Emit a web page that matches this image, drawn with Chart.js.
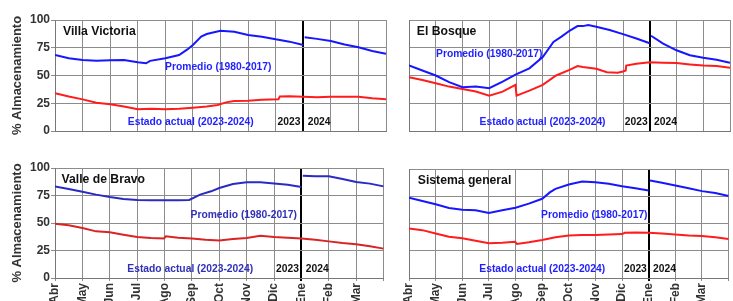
<!DOCTYPE html>
<html><head><meta charset="utf-8">
<script src="https://cdn.jsdelivr.net/npm/chart.js@4/dist/chart.umd.min.js"></script>
<style>
html,body{margin:0;padding:0;background:#fff;}
body{position:relative;width:733px;height:301px;overflow:hidden;}
canvas{position:absolute;}
</style></head><body>
<canvas id="c0" width="400" height="140" style="left:0;top:0;width:400px;height:140px"></canvas>
<canvas id="c1" width="355" height="140" style="left:390px;top:0;width:355px;height:140px"></canvas>
<canvas id="c2" width="400" height="161" style="left:0;top:140px;width:400px;height:161px"></canvas>
<canvas id="c3" width="355" height="161" style="left:390px;top:140px;width:355px;height:161px"></canvas>
<script>
// ---- data ----
const months = ['Abr','May','Jun','Jul','Ago','Sep','Oct','Nov','Dic','Ene','Feb','Mar'];
const yTicks = [0, 25, 50, 75, 100];
const panelNames = ['Villa Victoria', 'El Bosque', 'Valle de Bravo', 'Sistema general'];
const labelPromedio = 'Promedio (1980-2017)';
const labelEstado = 'Estado actual (2023-2024)';
const yearLabels = ['2023', '2024'];

// [month index from 1 Abr, % storage]; null = break in line
const villaVictoriaPromedio = [[0,68.5],[0.5,65.5],[1,64],[1.5,63.4],[2,63.7],[2.5,64],[3,61.9],[3.3,61],[3.45,63.2],[4,65.5],[4.5,68.5],[4.8,73.5],[5,77.5],[5.3,85],[5.5,87.4],[6,90.4],[6.5,89.5],[7,86.5],[7.5,85],[8,82.6],[8.5,80.5],[9,77.5],[9.02,null],[9.05,84.4],[9.5,83],[10,81],[10.5,78],[11,75.4],[11.5,72],[12,69.5]];
const villaVictoriaEstado = [[0,34],[0.5,31],[1,28.5],[1.5,25.5],[2,24],[2.5,22],[3,19.5],[3.5,20],[4,19.5],[4.5,20],[5,21],[5.5,22],[5.9,23.4],[6.2,25.8],[6.5,27],[7,27.3],[7.5,28.2],[8.1,28.5],[8.15,31],[8.5,31.3],[9,30.8],[9.5,30.5],[10,30.8],[10.5,30.8],[11,30.8],[11.5,29.5],[12,28.5]];
const elBosquePromedio = [[0,59],[0.5,54.5],[1,50],[1.5,44],[2,39.4],[2.5,40],[3,38.5],[3.5,44.5],[4,51],[4.5,56.5],[5,66.7],[5.4,80.3],[5.7,85],[6,90.3],[6.3,94.5],[6.5,94.5],[6.7,95.5],[7,94],[7.5,91],[8,87.3],[8.5,83.3],[9,79],[9.02,null],[9.05,85.8],[9.5,78.8],[10,72.7],[10.5,68.2],[11,66],[11.5,64.2],[12,61.5]];
const elBosqueEstado = [[0,48.5],[0.5,46],[1,43],[1.5,40],[2,37.9],[2.5,35.5],[3,31.8],[3.5,35.5],[3.98,41.5],[4.02,31.8],[4.5,36.4],[5,41.5],[5.5,50],[6,55],[6.3,58.5],[6.5,57.6],[7,56],[7.4,53],[7.8,52.5],[8,53.6],[8.1,54.5],[8.12,59],[8.5,60.6],[9,62],[9.5,61.5],[10,61.2],[10.5,60],[11,59],[11.5,58.5],[12,57]];
const valleBravoPromedio = [[0,83.3],[0.5,81],[1,78.5],[1.5,75.8],[2,73.6],[2.5,71.8],[3,70.9],[3.5,70.6],[4,70.6],[4.5,70.6],[4.9,71],[5.3,75.8],[5.7,78.8],[6,81.8],[6.5,85.5],[7,87],[7.5,87],[8,85.8],[8.5,84.8],[9,82.7],[9.02,null],[9.05,93],[9.5,92.4],[10,92.4],[10.5,90],[11,87.3],[11.5,85.8],[12,83.3]];
const valleBravoEstado = [[0,49.4],[0.5,47.9],[1,45.5],[1.5,42.4],[2,41.5],[2.5,39.4],[3,37.3],[3.5,36.4],[3.98,36],[4.05,37.9],[4.5,36.7],[5,35.8],[5.5,34.8],[6,34.2],[6.5,35.5],[7,36.4],[7.5,38.5],[8,37.3],[8.5,36.7],[9,36],[9.5,34.8],[10,33.3],[10.5,31.8],[11,30.6],[11.5,28.8],[12,26.7]];
const sistemaPromedio = [[0,73.6],[0.5,70.6],[1,67.6],[1.5,64.2],[2,62.7],[2.5,62.1],[3,59.7],[3.5,62.1],[4,64.5],[4.5,68.2],[5,72.7],[5.3,78.8],[5.5,81.8],[6,85.8],[6.5,88.5],[7,87.9],[7.5,86.4],[8,84.2],[8.5,82.4],[9,80.3],[9.02,null],[9.05,89.4],[9.5,87.3],[10,84.8],[10.5,82.4],[11,79.7],[11.5,77.9],[12,75.2]];
const sistemaEstado = [[0,45.5],[0.5,43.9],[1,40.9],[1.5,37.9],[2,36.4],[2.5,34.2],[3,31.8],[3.5,32.4],[3.98,33.3],[4.05,31.2],[4.5,32.7],[5,34.8],[5.5,37.3],[6,39],[6.5,39.4],[7,39.4],[7.5,40],[8,40.3],[8.1,41.5],[8.5,41.8],[9,41.5],[9.5,40.9],[10,40],[10.5,39],[11,38.5],[11.5,37.3],[12,35.8]];

// ---- drawing ----
const FONT = '"Liberation Sans", Arial, sans-serif';
const toPts = arr => arr.map(p => ({x: p[0], y: p[1]}));

const textPlugin = {
  id: 'panelText',
  beforeDatasetsDraw(chart, args, opts) {
    const {ctx, scales: {x, y}} = chart;
    ctx.save();
    ctx.textBaseline = 'middle';
    ctx.textAlign = 'left';
    for (const t of opts.items) {
      ctx.font = t.font;
      ctx.fillStyle = t.color;
      ctx.fillText(t.text, x.getPixelForValue(t.x), y.getPixelForValue(t.y));
    }
    ctx.restore();
  }
};

function makePanel(id, name, promedio, estado, cfg) {
  const blue = cfg.blue, red = cfg.red;
  const items = [
    {text: name, x: cfg.nameX, y: 89.3, font: 'bold 12.2px ' + FONT, color: '#111'},
    {text: labelPromedio, x: cfg.promX, y: cfg.promY, font: 'bold 10.3px ' + FONT, color: cfg.textBlue},
    {text: labelEstado, x: 2.64, y: 8.4, font: 'bold 10.3px ' + FONT, color: cfg.textBlue},
    {text: yearLabels[0], x: 8.07, y: 8.4, font: 'bold 10.3px ' + FONT, color: '#111'},
    {text: yearLabels[1], x: 9.16, y: 8.4, font: 'bold 10.3px ' + FONT, color: '#111'}
  ];
  new Chart(document.getElementById(id), {
    type: 'line',
    data: {
      datasets: [
        {label: labelPromedio, data: toPts(promedio), borderColor: blue, borderWidth: 2, pointRadius: 0, spanGaps: false, tension: 0},
        {label: labelEstado, data: toPts(estado), borderColor: red, borderWidth: 2, pointRadius: 0, spanGaps: true, tension: 0}
      ]
    },
    options: {
      responsive: false,
      animation: false,
      events: [],
      layout: {padding: cfg.pad},
      plugins: {legend: {display: false}, tooltip: {enabled: false}, panelText: {items}},
      scales: {
        x: {
          type: 'linear', min: 0, max: 12,
          afterBuildTicks: s => { s.ticks = months.map((m, i) => ({value: i})).concat([{value: 12}]); },
          afterFit: s => { s.height = cfg.xHeight; },
          ticks: {
            display: cfg.showX, autoSkip: false, minRotation: 90, maxRotation: 90, padding: 2,
            color: '#333', font: {family: FONT, size: 12, weight: 'bold'},
            callback: v => months[v] !== undefined ? months[v] : ''
          },
          grid: {
            drawTicks: cfg.showX, tickLength: 3,
            color: c => (c.tick && c.tick.value === 9) ? '#000' : '#8c8c8c',
            lineWidth: c => (c.tick && c.tick.value === 9) ? 2 : 1
          },
          border: {color: '#777', width: 1}
        },
        y: {
          min: 0, max: 100,
          afterBuildTicks: s => { s.ticks = yTicks.map(v => ({value: v})); },
          afterFit: s => { s.width = cfg.yWidth; },
          ticks: {display: cfg.showY, padding: 1, color: '#333', font: {family: FONT, size: 12, weight: 'bold'}},
          grid: {drawTicks: cfg.showY, tickLength: 4, color: '#8c8c8c', lineWidth: 1},
          border: {color: '#777', width: 1},
          title: {display: cfg.showY, text: '% Almacenamiento', color: '#333', padding: {top: 10, bottom: 0},
                  font: {family: FONT, size: 13, weight: 'bold'}}
        }
      }
    },
    plugins: [textPlugin]
  });
}

makePanel('c0', panelNames[0], villaVictoriaPromedio, villaVictoriaEstado, {
  blue: '#1717ff', red: '#ff1c1c', textBlue: '#1f1fff',
  nameX: 0.29, promX: 3.99, promY: 57.9,
  pad: {left: 0, top: 20, right: 14, bottom: 0}, xHeight: 9, yWidth: 55, showX: false, showY: true
});
makePanel('c1', panelNames[1], elBosquePromedio, elBosqueEstado, {
  blue: '#1717ff', red: '#ff1c1c', textBlue: '#1f1fff',
  nameX: 0.29, promX: 1.01, promY: 69.1,
  pad: {left: 19, top: 20, right: 15, bottom: 0}, xHeight: 9, yWidth: 0, showX: false, showY: false
});
makePanel('c2', panelNames[2], valleBravoPromedio, valleBravoEstado, {
  blue: '#2a2ac4', red: '#d92424', textBlue: '#3030b8',
  nameX: 0.24, promX: 4.95, promY: 57.5,
  pad: {left: 0, top: 28, right: 14, bottom: 0}, xHeight: 23, yWidth: 55, showX: true, showY: true
});
makePanel('c3', panelNames[3], sistemaPromedio, sistemaEstado, {
  blue: '#1717ff', red: '#ff1c1c', textBlue: '#1f1fff',
  nameX: 0.33, promX: 4.96, promY: 58,
  pad: {left: 19, top: 29, right: 15, bottom: 0}, xHeight: 23, yWidth: 0, showX: true, showY: false
});
</script>
</body></html>
